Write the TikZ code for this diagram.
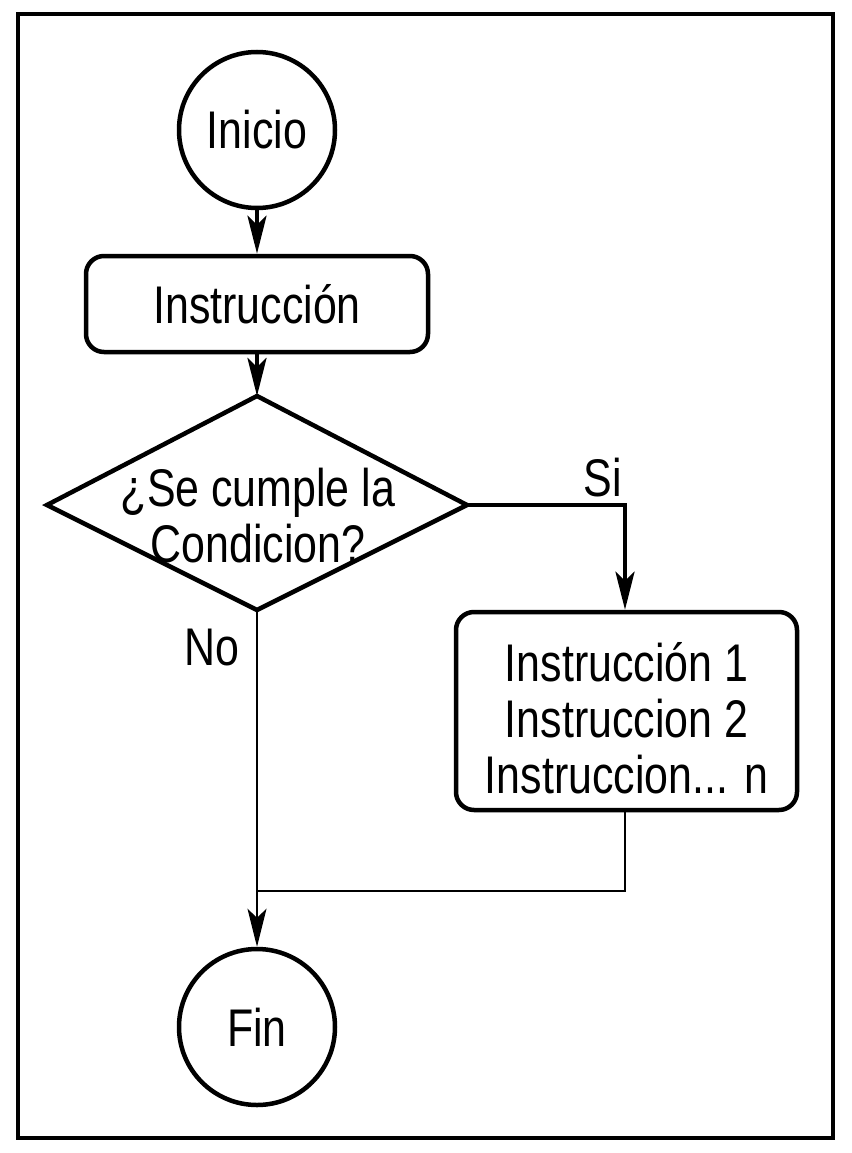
\documentclass[tikz,border=0pt]{standalone}
\usepackage{fontspec}
\setmainfont{Liberation Sans}[FakeStretch=0.81]
\usetikzlibrary{arrows.meta}
\begin{document}
\begin{tikzpicture}[x=1pt,y=-1pt,
  thick line/.style={line width=4.5pt},
  thin line/.style={line width=2pt},
  tip/.style={-{Stealth[length=38pt,width=19pt,inset=9pt]}},
  term/.style={circle,draw,line width=4.5pt,minimum size=156pt,inner sep=0pt},
  procbox/.style={draw,line width=4.5pt,rounded corners=18pt,inner sep=0pt},
  lbl/.style={inner sep=0pt,font=\fontsize{53}{56}\selectfont,align=center}]
\useasboundingbox (0,0) rectangle (851,1153);
\draw[line width=4pt] (18,14) rectangle (833,1138);
% nodes
\node[term,lbl] (ini) at (257,130) {Inicio};
\node[procbox,lbl,minimum width=342pt,minimum height=96pt] (ins) at (257,304) {Instrucción};
\coordinate (dT) at (257,396);
\coordinate (dR) at (467,505);
\coordinate (dB) at (257,610);
\coordinate (dL) at (47,505);
\draw[line width=4.5pt,line join=miter] (dT)--(dR)--(dB)--(dL)--cycle;
\node[lbl] (cond) at (258,516) {¿Se cumple la\\Condicion?};
\node[procbox,minimum width=341pt,minimum height=198pt] (blk) at (626.5,711) {};
\node[lbl] (blkT) at (626.5,718) {Instrucción 1\\Instruccion 2\\Instruccion... n};
\node[term,lbl] (fin) at (257,1027) {Fin};
\node[lbl] (si) at (603,478) {Si};
\node[lbl] (no) at (212,648) {No};
\coordinate (siC) at (625,505);
\coordinate (join) at (257,891);
\coordinate (blkC) at (625,891);
% connectors
\draw[thick line,tip] (ini.south) -- (ins.north);
\draw[thick line,tip] (ins.south) -- (dT);
\draw[thick line,tip] (dR) -- (siC) -- (blk.north -| siC);
\draw[thin line,tip] (dB) -- (fin.north);
\draw[thin line] (blk.south -| blkC) -- (blkC) -- (join);
\end{tikzpicture}
\end{document}
